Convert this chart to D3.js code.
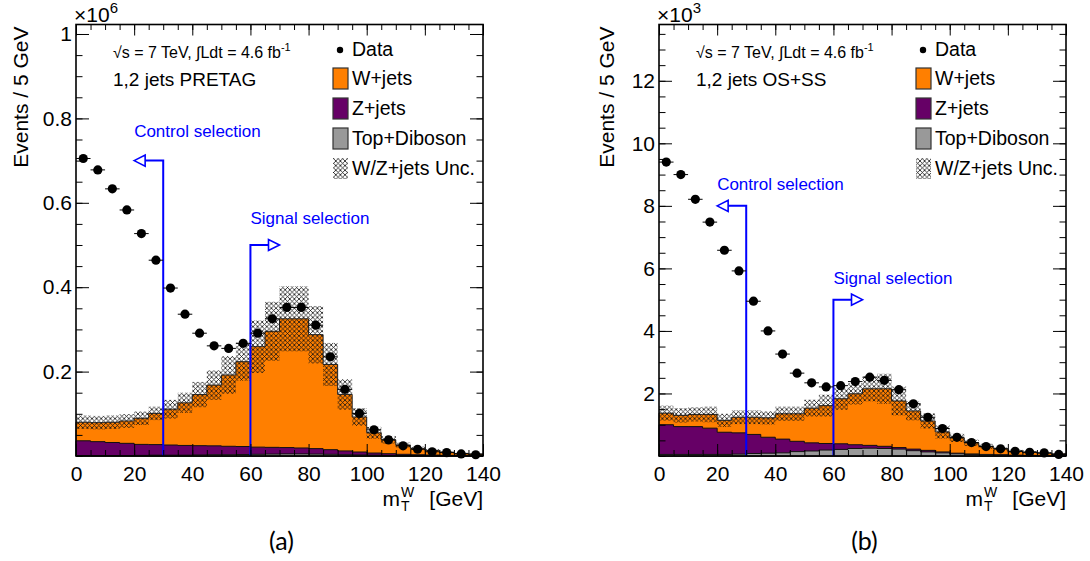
<!DOCTYPE html>
<html>
<head>
<meta charset="utf-8">
<script src="https://cdn.jsdelivr.net/npm/d3@7"></script>
<style>
  body { margin: 0; background: #fff; }
  svg text { font-family: "Liberation Sans", Arial, Helvetica, sans-serif; }
</style>
</head>
<body>
<svg id="chart" width="1090" height="561"></svg>
<script>
// bins of 5 GeV in m_T^W
var binLow = [0,5,10,15,20,25,30,35,40,45,50,55,60,65,70,75,80,85,90,95,100,105,110,115,120,125,130,135];
var binWidth = 5;

// (a) 1,2 jets PRETAG, events x 10^6
var dataA  = [0.705,0.678,0.633,0.583,0.527,0.464,0.398,0.336,0.291,0.261,0.255,0.267,0.291,0.325,0.352,0.352,0.310,0.235,0.158,0.101,0.062,0.038,0.024,0.016,0.010,0.008,0.005,0.003];
var wjetsA = [0.044,0.045,0.048,0.053,0.062,0.074,0.085,0.101,0.121,0.144,0.169,0.201,0.238,0.275,0.305,0.306,0.270,0.202,0.134,0.083,0.048,0.033,0.022,0.015,0.011,0.0074,0.0047,0.0041];
var zjetsA = [0.035,0.033,0.031,0.029,0.026,0.025,0.024,0.023,0.022,0.021,0.020,0.019,0.017,0.016,0.015,0.014,0.013,0.011,0.009,0.007,0.005,0.004,0.003,0.002,0.0015,0.001,0.0008,0.0005];
var topA   = [0.001,0.001,0.001,0.001,0.0015,0.002,0.002,0.002,0.0025,0.003,0.003,0.0035,0.004,0.0045,0.005,0.005,0.0045,0.004,0.003,0.0025,0.002,0.0015,0.001,0.001,0.0008,0.0006,0.0005,0.0004];
var uncA   = [0.016,0.016,0.016,0.016,0.016,0.016,0.022,0.024,0.030,0.035,0.045,0.045,0.062,0.070,0.077,0.077,0.068,0.051,0.036,0.021,0.014,0.009,0.006,0.004,0.003,0.002,0.0015,0.001];

// (b) 1,2 jets OS+SS, events x 10^3
var dataB  = [9.40,9.00,8.21,7.48,6.58,5.92,4.95,4.00,3.26,2.65,2.34,2.21,2.25,2.38,2.52,2.42,2.12,1.67,1.24,0.88,0.60,0.43,0.30,0.23,0.15,0.12,0.10,0.05];
var wjetsB = [0.37,0.36,0.39,0.44,0.38,0.50,0.55,0.62,0.81,0.88,1.11,1.21,1.44,1.63,1.81,1.84,1.49,1.22,0.94,0.64,0.49,0.355,0.26,0.192,0.124,0.101,0.077,0.06];
var zjetsB = [0.95,0.89,0.89,0.84,0.71,0.68,0.61,0.51,0.44,0.33,0.26,0.21,0.18,0.12,0.09,0.07,0.05,0.05,0.05,0.03,0.02,0.015,0.01,0.008,0.006,0.004,0.003,0.002];
var topB   = [0.05,0.05,0.05,0.05,0.05,0.06,0.08,0.09,0.10,0.14,0.16,0.19,0.21,0.24,0.25,0.24,0.22,0.17,0.13,0.10,0.07,0.05,0.04,0.03,0.02,0.015,0.01,0.008];
var uncB   = [0.24,0.23,0.23,0.25,0.21,0.22,0.22,0.21,0.23,0.23,0.27,0.35,0.35,0.34,0.40,0.48,0.46,0.30,0.24,0.21,0.13,0.10,0.08,0.05,0.05,0.04,0.04,0.03];

// axis ticks
var xTicks = [0,20,40,60,80,100,120,140];
var yTicksA = [0.2,0.4,0.6,0.8,1];
var yTicksB = [2,4,6,8,10,12];

var legendLabels = ["Data", "W+jets", "Z+jets", "Top+Diboson", "W/Z+jets Unc."];

// selection cuts: [cut, arrow end, arrow height, label height] per panel
var controlA = [30, 20, 0.70, 0.755];
var signalA  = [60, 70, 0.50, 0.55];
var controlB = [30, 20, 8.0, 8.5];
var signalB  = [60, 70, 5.0, 5.5];

var orange = "#ff7f00", purple = "#660066", grey = "#999999", blue = "#0000ff";

var plotW = 407, plotTop = 24.5, plotBottom = 456;

var svg = d3.select("#chart");

// ROOT style cross hatch
var defs = svg.append("defs");
var pat = defs.append("pattern")
  .attr("id", "hatch")
  .attr("patternUnits", "userSpaceOnUse")
  .attr("width", 4.6)
  .attr("height", 4.6);
pat.append("path")
  .attr("d", "M0,0L4.6,4.6M4.6,0L0,4.6M-1,3.6L1,5.6M3.6,-1L5.6,1")
  .attr("stroke", "#111")
  .attr("stroke-width", 0.8)
  .attr("fill", "none");

var panels = [
  { left: 76, ymax: 1.0225, exp: "6", region: "1,2 jets PRETAG", tag: "(a)",
    data: dataA, w: wjetsA, z: zjetsA, t: topA, unc: uncA,
    yTicks: yTicksA, minor: 0.05, control: controlA, signal: signalA, yTitleX: 28 },
  { left: 659, ymax: 13.8, exp: "3", region: "1,2 jets OS+SS", tag: "(b)",
    data: dataB, w: wjetsB, z: zjetsB, t: topB, unc: uncB,
    yTicks: yTicksB, minor: 0.5, control: controlB, signal: signalB, yTitleX: 614 }
];

panels.forEach(drawPanel);

function drawPanel(p) {
  var x = d3.scaleLinear().domain([0, 140]).range([p.left, p.left + plotW]);
  var y = d3.scaleLinear().domain([0, p.ymax]).range([plotBottom, plotTop]);
  var g = svg.append("g");

  // cumulative stack
  var bins = binLow.map(function(lo, i) {
    var t = p.t[i], z = t + p.z[i], w = z + p.w[i];
    return { lo: lo, hi: lo + binWidth, top: t, zTop: z, wTop: w, unc: p.unc[i], data: p.data[i] };
  });

  function stepArea(key) {
    var pts = bins.map(function(b) { return [b.lo, b[key]]; });
    pts.push([140, bins[bins.length - 1][key]]);
    return d3.area()
      .x(function(d) { return x(d[0]); })
      .y0(y(0))
      .y1(function(d) { return y(d[1]); })
      .curve(d3.curveStepAfter)(pts);
  }

  g.append("path").attr("d", stepArea("wTop")).attr("fill", orange).attr("stroke", "#222").attr("stroke-width", 1);
  g.append("path").attr("d", stepArea("zTop")).attr("fill", purple).attr("stroke", "#111").attr("stroke-width", 1);
  g.append("path").attr("d", stepArea("top")).attr("fill", grey).attr("stroke", "#111").attr("stroke-width", 1);

  // uncertainty band
  g.selectAll("rect.unc")
    .data(bins)
    .enter()
    .append("rect")
    .attr("class", "unc")
    .attr("x", d => x(d.lo))
    .attr("width", d => x(d.hi) - x(d.lo))
    .attr("y", d => y(d.wTop + d.unc))
    .attr("height", d => y(Math.max(d.wTop - d.unc, 0)) - y(d.wTop + d.unc))
    .attr("fill", "url(#hatch)");

  // selection arrows
  [p.control, p.signal].forEach(function(c, k) {
    var cx = x(c[0]), ex = x(c[1]), ay = y(c[2]);
    var dir = ex < cx ? 1 : -1;
    g.append("path")
      .attr("d", "M" + cx + "," + plotBottom + "L" + cx + "," + ay + "L" + (ex + dir * 11) + "," + ay)
      .attr("fill", "none")
      .attr("stroke", blue)
      .attr("stroke-width", 2);
    g.append("path")
      .attr("d", "M" + ex + "," + ay + "L" + (ex + dir * 11) + "," + (ay - 5.5) + "L" + (ex + dir * 11) + "," + (ay + 5.5) + "Z")
      .attr("fill", "#fff")
      .attr("stroke", blue)
      .attr("stroke-width", 1.6);
    g.append("text")
      .attr("x", k === 0 ? ex : cx)
      .attr("y", y(c[3]))
      .attr("font-size", "17px")
      .attr("fill", blue)
      .text(k === 0 ? "Control selection" : "Signal selection");
  });

  // data points
  g.selectAll("line.err")
    .data(bins)
    .enter()
    .append("line")
    .attr("x1", d => x(d.lo))
    .attr("x2", d => x(d.hi))
    .attr("y1", d => y(d.data))
    .attr("y2", d => y(d.data))
    .attr("stroke", "#000")
    .attr("stroke-width", 1);
  g.selectAll("circle.pt")
    .data(bins)
    .enter()
    .append("circle")
    .attr("cx", d => x((d.lo + d.hi) / 2))
    .attr("cy", d => y(d.data))
    .attr("r", 4.6)
    .attr("fill", "#000");

  // axes, ticks pointing inwards
  var yMinor = d3.range(0, p.ymax, p.minor);
  var xMinor = d3.range(0, 141, 5);

  function styleAxis(sel) {
    sel.select(".domain").remove();
    sel.selectAll("line").attr("stroke", "#000");
    sel.selectAll("text").attr("font-size", "21px").attr("fill", "#000");
  }

  g.append("g").attr("transform", "translate(0," + plotBottom + ")")
    .call(d3.axisBottom(x).tickValues(xTicks).tickSize(-12).tickPadding(10).tickFormat(d3.format("d")))
    .call(styleAxis);
  g.append("g").attr("transform", "translate(0," + plotBottom + ")")
    .call(d3.axisBottom(x).tickValues(xMinor).tickSize(-6).tickFormat(""))
    .call(styleAxis);
  g.append("g").attr("transform", "translate(0," + plotTop + ")")
    .call(d3.axisTop(x).tickValues(xTicks).tickSize(-11).tickFormat(""))
    .call(styleAxis);
  g.append("g").attr("transform", "translate(0," + plotTop + ")")
    .call(d3.axisTop(x).tickValues(xMinor).tickSize(-5.5).tickFormat(""))
    .call(styleAxis);

  g.append("g").attr("transform", "translate(" + p.left + ",0)")
    .call(d3.axisLeft(y).tickValues(p.yTicks).tickSize(-13).tickPadding(4).tickFormat(d3.format("~g")))
    .call(styleAxis);
  g.append("g").attr("transform", "translate(" + p.left + ",0)")
    .call(d3.axisLeft(y).tickValues(yMinor).tickSize(-6.5).tickFormat(""))
    .call(styleAxis);
  g.append("g").attr("transform", "translate(" + (p.left + plotW) + ",0)")
    .call(d3.axisRight(y).tickValues(p.yTicks).tickSize(-13).tickFormat(""))
    .call(styleAxis);
  g.append("g").attr("transform", "translate(" + (p.left + plotW) + ",0)")
    .call(d3.axisRight(y).tickValues(yMinor).tickSize(-6.5).tickFormat(""))
    .call(styleAxis);

  // frame
  g.append("rect")
    .attr("x", p.left)
    .attr("y", plotTop)
    .attr("width", plotW)
    .attr("height", plotBottom - plotTop)
    .attr("fill", "none")
    .attr("stroke", "#000")
    .attr("stroke-width", 1.6);

  // exponent
  var ex = g.append("text").attr("x", p.left - 2).attr("y", 22).attr("font-size", "21px");
  ex.append("tspan").text("\u00d710");
  ex.append("tspan").attr("font-size", "15px").attr("dy", -9).text(p.exp);

  // y title
  g.append("text")
    .attr("transform", "translate(" + p.yTitleX + "," + (plotTop + 2) + ") rotate(-90)")
    .attr("text-anchor", "end")
    .attr("font-size", "21px")
    .text("Events / 5 GeV");

  // x title
  var right = p.left + plotW;
  g.append("text").attr("x", right).attr("y", 506).attr("text-anchor", "end").attr("font-size", "21px").text("[GeV]");
  g.append("text").attr("x", right - 83).attr("y", 506).attr("text-anchor", "end").attr("font-size", "21px").text("m");
  g.append("text").attr("x", right - 82).attr("y", 511).attr("font-size", "14px").text("T");
  g.append("text").attr("x", right - 82).attr("y", 497).attr("font-size", "14px").text("W");

  // panel tag
  g.append("text")
    .attr("x", p.left + plotW / 2 + 2)
    .attr("y", 550)
    .attr("text-anchor", "middle")
    .attr("font-size", "25px")
    .style("font-family", "Lato, 'Open Sans', sans-serif")
    .text(p.tag);

  // lumi and region labels
  var lumi = g.append("text").attr("x", p.left + 37).attr("y", 58).attr("font-size", "16px");
  lumi.append("tspan").text("\u221as = 7 TeV,  \u222bLdt = 4.6 fb");
  lumi.append("tspan").attr("font-size", "11px").attr("dy", -7).text("-1");
  g.append("text").attr("x", p.left + 37).attr("y", 86).attr("font-size", "19px").text(p.region);

  // legend
  var lx = p.left + 257;
  g.append("circle").attr("cx", lx + 7).attr("cy", 50).attr("r", 3.2).attr("fill", "#000");
  g.append("text").attr("x", lx + 19).attr("y", 56).attr("font-size", "19.5px").text(legendLabels[0]);
  var fills = [orange, purple, grey, "url(#hatch)"];
  fills.forEach(function(f, i) {
    var by = 68 + i * 30;
    if (i === 3) {
      g.append("rect").attr("x", lx).attr("y", by).attr("width", 15).attr("height", 21).attr("fill", "#fff");
    }
    g.append("rect")
      .attr("x", lx).attr("y", by)
      .attr("width", 15).attr("height", 21)
      .attr("fill", f)
      .attr("stroke", i === 3 ? "none" : "#333")
      .attr("stroke-width", 1.2);
    g.append("text").attr("x", lx + 19).attr("y", by + 17).attr("font-size", "19.5px").text(legendLabels[i + 1]);
  });
}
</script>
</body>
</html>
